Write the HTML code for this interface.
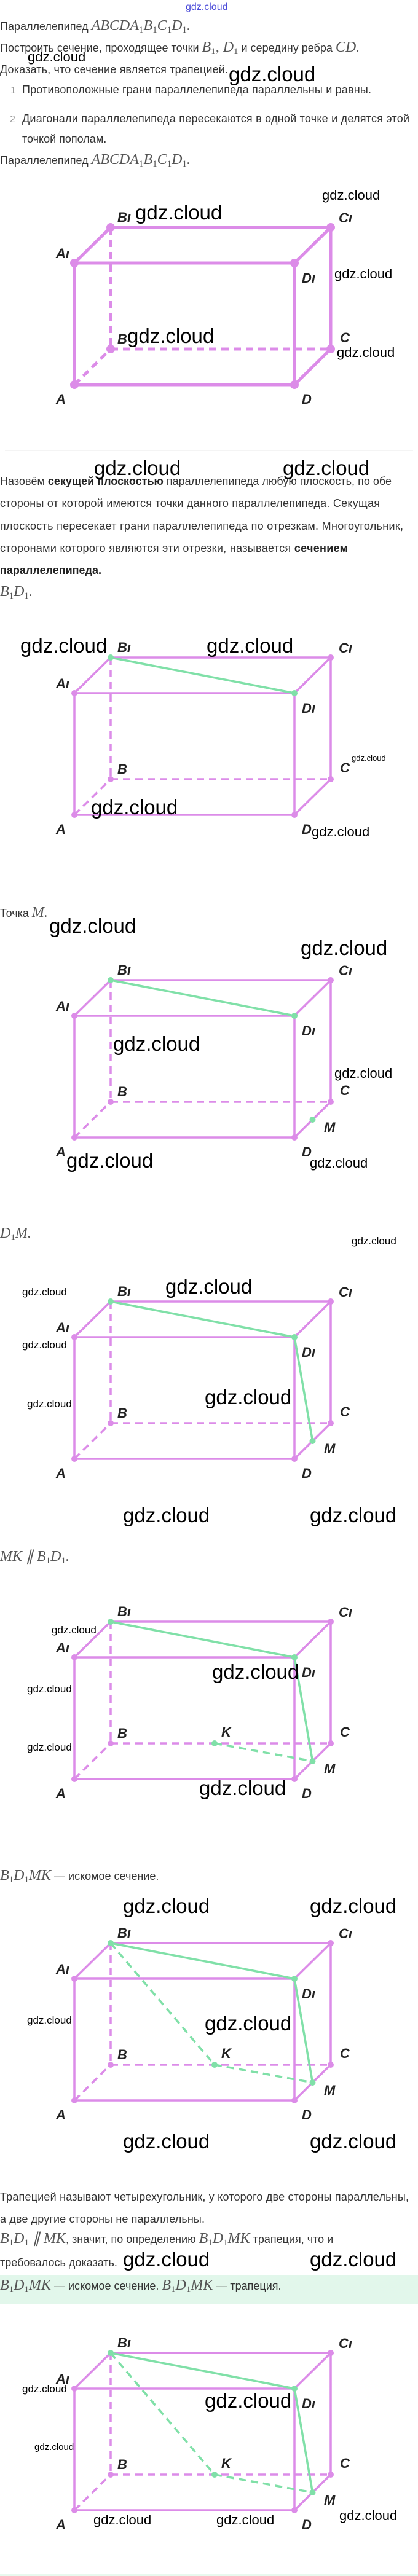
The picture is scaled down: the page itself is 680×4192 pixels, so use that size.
<!DOCTYPE html>
<html><head><meta charset="utf-8">
<style>
html,body{margin:0;padding:0;background:#fff;}
svg{display:block;}
.t{font-family:"Liberation Sans",sans-serif;font-size:18px;fill:#333;}
.b{font-weight:bold;fill:#222;}
.m{font-family:"Liberation Serif",serif;font-style:italic;font-size:24px;fill:#555;}
.s{font-family:"Liberation Serif",serif;font-size:15px;fill:#555;font-style:normal;}
.n{font-family:"Liberation Sans",sans-serif;font-size:16px;fill:#999;}
.L{font-family:"Liberation Sans Narrow","Liberation Sans",sans-serif;font-weight:bold;font-style:italic;font-size:22px;fill:#222;}
.w{font-family:"Liberation Sans",sans-serif;fill:#000;}
.p{stroke:#dc8ce8;fill:none;stroke-linecap:round;}
.d{stroke-dasharray:12 8;stroke-linecap:butt;}
.g{stroke:#80e0a8;fill:none;stroke-width:3.5;}
.pd{fill:#dc8ce8;}
.gd{fill:#80e0a8;}
</style></head><body>
<svg width="680" height="4192" viewBox="0 0 680 4192" xmlns="http://www.w3.org/2000/svg">
<rect width="680" height="4192" fill="#fff"/>

<text x="302" y="16" class="w" font-size="16" style="fill:#4848d8">gdz.cloud</text>
<text x="0" y="49" class="t">Параллелепипед <tspan class="m">ABCDA</tspan><tspan class="s" baseline-shift="-4">1</tspan><tspan class="m">B</tspan><tspan class="s" baseline-shift="-4">1</tspan><tspan class="m">C</tspan><tspan class="s" baseline-shift="-4">1</tspan><tspan class="m">D</tspan><tspan class="s" baseline-shift="-4">1</tspan><tspan class="m">.</tspan></text>
<text x="0" y="84" class="t">Построить сечение, проходящее точки <tspan class="m">B</tspan><tspan class="s" baseline-shift="-4">1</tspan><tspan class="m">, D</tspan><tspan class="s" baseline-shift="-4">1</tspan> и середину ребра <tspan class="m">CD.</tspan></text>
<text x="0" y="119" class="t" textLength="371" lengthAdjust="spacing">Доказать, что сечение является трапецией.</text>
<text x="17" y="152" class="n">1</text>
<text x="36" y="152" class="t" textLength="568" lengthAdjust="spacing">Противоположные грани параллелепипеда параллельны и равны.</text>
<text x="16" y="199" class="n">2</text>
<text x="36" y="199" class="t" textLength="630" lengthAdjust="spacing">Диагонали параллелепипеда пересекаются в одной точке и делятся этой</text>
<text x="36" y="232" class="t">точкой пополам.</text>
<text x="0" y="267" class="t">Параллелепипед <tspan class="m">ABCDA</tspan><tspan class="s" baseline-shift="-4">1</tspan><tspan class="m">B</tspan><tspan class="s" baseline-shift="-4">1</tspan><tspan class="m">C</tspan><tspan class="s" baseline-shift="-4">1</tspan><tspan class="m">D</tspan><tspan class="s" baseline-shift="-4">1</tspan><tspan class="m">.</tspan></text>

<!-- FIG 1 -->
<g transform="translate(0,370)">
<g class="p" stroke-width="5">
<line x1="180" y1="0" x2="538" y2="0"/><line x1="121" y1="58" x2="180" y2="0"/><line x1="121" y1="58" x2="479" y2="58"/><line x1="479" y1="58" x2="538" y2="0"/>
<line x1="538" y1="0" x2="538" y2="198"/><line x1="121" y1="58" x2="121" y2="256"/><line x1="479" y1="58" x2="479" y2="256"/><line x1="121" y1="256" x2="479" y2="256"/><line x1="479" y1="256" x2="538" y2="198"/>
<line class="d" x1="180" y1="0" x2="180" y2="198"/><line class="d" x1="180" y1="198" x2="538" y2="198"/><line class="d" x1="121" y1="256" x2="180" y2="198"/>
</g>
<g class="pd"><circle cx="180" cy="0" r="7"/><circle cx="538" cy="0" r="7"/><circle cx="121" cy="58" r="7"/><circle cx="479" cy="58" r="7"/><circle cx="180" cy="198" r="7"/><circle cx="538" cy="198" r="7"/><circle cx="121" cy="256" r="7"/><circle cx="479" cy="256" r="7"/></g>
<text class="L" x="191" y="-9">Bı</text><text class="L" x="551" y="-8">Cı</text><text class="L" x="91" y="50">Aı</text><text class="L" x="491" y="90">Dı</text>
<text class="L" x="191" y="189">B</text><text class="L" x="553" y="187">C</text><text class="L" x="91" y="287">A</text><text class="L" x="491" y="287">D</text>
</g>
<text class="w" x="45" y="100" font-size="22">gdz.cloud</text>
<text class="w" x="372" y="132" font-size="33">gdz.cloud</text>
<text class="w" x="524" y="325" font-size="22">gdz.cloud</text>
<text class="w" x="220" y="357" font-size="33">gdz.cloud</text>
<text class="w" x="544" y="453" font-size="22">gdz.cloud</text>
<text class="w" x="207" y="558" font-size="33">gdz.cloud</text>
<text class="w" x="548" y="581" font-size="22">gdz.cloud</text>

<line x1="8" y1="733" x2="672" y2="733" stroke="#f0f0f0" stroke-width="1.5"/>

<text x="0" y="789" class="t" textLength="637" lengthAdjust="spacing">Назовём <tspan class="b">секущей плоскостью</tspan> параллелепипеда любую плоскость, по обе</text>
<text x="0" y="825" class="t" textLength="618" lengthAdjust="spacing">стороны от которой имеются точки данного параллелепипеда. Секущая</text>
<text x="0" y="862" class="t" textLength="656" lengthAdjust="spacing">плоскость пересекает грани параллелепипеда по отрезкам. Многоугольник,</text>
<text x="0" y="898" class="t" textLength="566" lengthAdjust="spacing">сторонами которого являются эти отрезки, называется <tspan class="b">сечением</tspan></text>
<text x="0" y="934" class="t b">параллелепипеда.</text>
<text x="0" y="970"><tspan class="m">B</tspan><tspan class="s" baseline-shift="-4">1</tspan><tspan class="m">D</tspan><tspan class="s" baseline-shift="-4">1</tspan><tspan class="m">.</tspan></text>
<text class="w" x="153" y="773" font-size="33">gdz.cloud</text>
<text class="w" x="460" y="773" font-size="33">gdz.cloud</text>

<!-- FIG 2 -->
<g transform="translate(0,1070)">
<g class="p" stroke-width="3.5">
<line x1="180" y1="0" x2="538" y2="0"/><line x1="121" y1="58" x2="180" y2="0"/><line x1="121" y1="58" x2="479" y2="58"/><line x1="479" y1="58" x2="538" y2="0"/>
<line x1="538" y1="0" x2="538" y2="198"/><line x1="121" y1="58" x2="121" y2="256"/><line x1="479" y1="58" x2="479" y2="256"/><line x1="121" y1="256" x2="479" y2="256"/><line x1="479" y1="256" x2="538" y2="198"/>
<line class="d" x1="180" y1="0" x2="180" y2="198"/><line class="d" x1="180" y1="198" x2="538" y2="198"/><line class="d" x1="121" y1="256" x2="180" y2="198"/>
</g>
<line class="g" x1="180" y1="0" x2="479" y2="58"/>
<g class="pd"><circle cx="538" cy="0" r="5"/><circle cx="121" cy="58" r="5"/><circle cx="180" cy="198" r="5"/><circle cx="538" cy="198" r="5"/><circle cx="121" cy="256" r="5"/><circle cx="479" cy="256" r="5"/></g>
<g class="gd"><circle cx="180" cy="0" r="5"/><circle cx="479" cy="58" r="5"/></g>
<text class="L" x="191" y="-9">Bı</text><text class="L" x="551" y="-8">Cı</text><text class="L" x="91" y="50">Aı</text><text class="L" x="491" y="90">Dı</text>
<text class="L" x="191" y="189">B</text><text class="L" x="553" y="187">C</text><text class="L" x="91" y="287">A</text><text class="L" x="491" y="287">D</text>
</g>
<text class="w" x="33" y="1062" font-size="33">gdz.cloud</text>
<text class="w" x="336" y="1062" font-size="33">gdz.cloud</text>
<text class="w" x="572" y="1238" font-size="13">gdz.cloud</text>
<text class="w" x="148" y="1325" font-size="33">gdz.cloud</text>
<text class="w" x="507" y="1361" font-size="22">gdz.cloud</text>

<text x="0" y="1492" class="t">Точка <tspan class="m">M.</tspan></text>
<text class="w" x="80" y="1518" font-size="33">gdz.cloud</text>
<text class="w" x="489" y="1554" font-size="33">gdz.cloud</text>

<!-- FIG 3 -->
<g transform="translate(0,1595)">
<g class="p" stroke-width="3.5">
<line x1="180" y1="0" x2="538" y2="0"/><line x1="121" y1="58" x2="180" y2="0"/><line x1="121" y1="58" x2="479" y2="58"/><line x1="479" y1="58" x2="538" y2="0"/>
<line x1="538" y1="0" x2="538" y2="198"/><line x1="121" y1="58" x2="121" y2="256"/><line x1="479" y1="58" x2="479" y2="256"/><line x1="121" y1="256" x2="479" y2="256"/><line x1="479" y1="256" x2="538" y2="198"/>
<line class="d" x1="180" y1="0" x2="180" y2="198"/><line class="d" x1="180" y1="198" x2="538" y2="198"/><line class="d" x1="121" y1="256" x2="180" y2="198"/>
</g>
<line class="g" x1="180" y1="0" x2="479" y2="58"/>
<g class="pd"><circle cx="538" cy="0" r="5"/><circle cx="121" cy="58" r="5"/><circle cx="180" cy="198" r="5"/><circle cx="538" cy="198" r="5"/><circle cx="121" cy="256" r="5"/><circle cx="479" cy="256" r="5"/></g>
<g class="gd"><circle cx="180" cy="0" r="5"/><circle cx="479" cy="58" r="5"/><circle cx="508.5" cy="227" r="5"/></g>
<text class="L" x="191" y="-9">Bı</text><text class="L" x="551" y="-8">Cı</text><text class="L" x="91" y="50">Aı</text><text class="L" x="491" y="90">Dı</text>
<text class="L" x="191" y="189">B</text><text class="L" x="553" y="187">C</text><text class="L" x="91" y="287">A</text><text class="L" x="491" y="287">D</text><text class="L" x="527" y="247">M</text>
</g>
<text class="w" x="184" y="1710" font-size="33">gdz.cloud</text>
<text class="w" x="544" y="1754" font-size="22">gdz.cloud</text>
<text class="w" x="108" y="1900" font-size="33">gdz.cloud</text>
<text class="w" x="504" y="1900" font-size="22">gdz.cloud</text>

<text x="0" y="2014"><tspan class="m">D</tspan><tspan class="s" baseline-shift="-4">1</tspan><tspan class="m">M.</tspan></text>
<text class="w" x="572" y="2025" font-size="17">gdz.cloud</text>
<text class="w" x="36" y="2108" font-size="17">gdz.cloud</text>
<text class="w" x="269" y="2105" font-size="33">gdz.cloud</text>

<!-- FIG 4 -->
<g transform="translate(0,2118)">
<g class="p" stroke-width="3.5">
<line x1="180" y1="0" x2="538" y2="0"/><line x1="121" y1="58" x2="180" y2="0"/><line x1="121" y1="58" x2="479" y2="58"/><line x1="479" y1="58" x2="538" y2="0"/>
<line x1="538" y1="0" x2="538" y2="198"/><line x1="121" y1="58" x2="121" y2="256"/><line x1="479" y1="58" x2="479" y2="256"/><line x1="121" y1="256" x2="479" y2="256"/><line x1="479" y1="256" x2="538" y2="198"/>
<line class="d" x1="180" y1="0" x2="180" y2="198"/><line class="d" x1="180" y1="198" x2="538" y2="198"/><line class="d" x1="121" y1="256" x2="180" y2="198"/>
</g>
<line class="g" x1="180" y1="0" x2="479" y2="58"/><line class="g" x1="479" y1="58" x2="508.5" y2="227"/>
<g class="pd"><circle cx="538" cy="0" r="5"/><circle cx="121" cy="58" r="5"/><circle cx="180" cy="198" r="5"/><circle cx="538" cy="198" r="5"/><circle cx="121" cy="256" r="5"/><circle cx="479" cy="256" r="5"/></g>
<g class="gd"><circle cx="180" cy="0" r="5"/><circle cx="479" cy="58" r="5"/><circle cx="508.5" cy="227" r="5"/></g>
<text class="L" x="191" y="-9">Bı</text><text class="L" x="551" y="-8">Cı</text><text class="L" x="91" y="50">Aı</text><text class="L" x="491" y="90">Dı</text>
<text class="L" x="191" y="189">B</text><text class="L" x="553" y="187">C</text><text class="L" x="91" y="287">A</text><text class="L" x="491" y="287">D</text><text class="L" x="527" y="247">M</text>
</g>
<text class="w" x="36" y="2194" font-size="17">gdz.cloud</text>
<text class="w" x="44" y="2290" font-size="17">gdz.cloud</text>
<text class="w" x="333" y="2285" font-size="33">gdz.cloud</text>
<text class="w" x="200" y="2477" font-size="33">gdz.cloud</text>
<text class="w" x="504" y="2477" font-size="33">gdz.cloud</text>

<text x="0" y="2540"><tspan class="m">MK ∥ B</tspan><tspan class="s" baseline-shift="-4">1</tspan><tspan class="m">D</tspan><tspan class="s" baseline-shift="-4">1</tspan><tspan class="m">.</tspan></text>

<!-- FIG 5 -->
<g transform="translate(0,2639)">
<g class="p" stroke-width="3.5">
<line x1="180" y1="0" x2="538" y2="0"/><line x1="121" y1="58" x2="180" y2="0"/><line x1="121" y1="58" x2="479" y2="58"/><line x1="479" y1="58" x2="538" y2="0"/>
<line x1="538" y1="0" x2="538" y2="198"/><line x1="121" y1="58" x2="121" y2="256"/><line x1="479" y1="58" x2="479" y2="256"/><line x1="121" y1="256" x2="479" y2="256"/><line x1="479" y1="256" x2="538" y2="198"/>
<line class="d" x1="180" y1="0" x2="180" y2="198"/><line class="d" x1="180" y1="198" x2="538" y2="198"/><line class="d" x1="121" y1="256" x2="180" y2="198"/>
</g>
<line class="g" x1="180" y1="0" x2="479" y2="58"/><line class="g" x1="479" y1="58" x2="508.5" y2="227"/>
<line class="g" stroke-dasharray="12 8" x1="349" y1="198" x2="508.5" y2="227"/>
<g class="pd"><circle cx="538" cy="0" r="5"/><circle cx="121" cy="58" r="5"/><circle cx="180" cy="198" r="5"/><circle cx="538" cy="198" r="5"/><circle cx="121" cy="256" r="5"/><circle cx="479" cy="256" r="5"/></g>
<g class="gd"><circle cx="180" cy="0" r="5"/><circle cx="479" cy="58" r="5"/><circle cx="508.5" cy="227" r="5"/><circle cx="349" cy="198" r="5"/></g>
<text class="L" x="191" y="-9">Bı</text><text class="L" x="551" y="-8">Cı</text><text class="L" x="91" y="50">Aı</text><text class="L" x="491" y="90">Dı</text>
<text class="L" x="191" y="189">B</text><text class="L" x="553" y="187">C</text><text class="L" x="91" y="287">A</text><text class="L" x="491" y="287">D</text><text class="L" x="527" y="247">M</text><text class="L" x="360" y="187">K</text>
</g>
<text class="w" x="84" y="2658" font-size="17">gdz.cloud</text>
<text class="w" x="345" y="2732" font-size="33">gdz.cloud</text>
<text class="w" x="44" y="2754" font-size="17">gdz.cloud</text>
<text class="w" x="44" y="2849" font-size="17">gdz.cloud</text>
<text class="w" x="324" y="2921" font-size="33">gdz.cloud</text>

<text x="0" y="3059"><tspan class="m">B</tspan><tspan class="s" baseline-shift="-4">1</tspan><tspan class="m">D</tspan><tspan class="s" baseline-shift="-4">1</tspan><tspan class="m">MK</tspan><tspan class="t"> — искомое сечение.</tspan></text>
<text class="w" x="200" y="3113" font-size="33">gdz.cloud</text>
<text class="w" x="504" y="3113" font-size="33">gdz.cloud</text>

<!-- FIG 6 -->
<g transform="translate(0,3162)">
<g class="p" stroke-width="3.5">
<line x1="180" y1="0" x2="538" y2="0"/><line x1="121" y1="58" x2="180" y2="0"/><line x1="121" y1="58" x2="479" y2="58"/><line x1="479" y1="58" x2="538" y2="0"/>
<line x1="538" y1="0" x2="538" y2="198"/><line x1="121" y1="58" x2="121" y2="256"/><line x1="479" y1="58" x2="479" y2="256"/><line x1="121" y1="256" x2="479" y2="256"/><line x1="479" y1="256" x2="538" y2="198"/>
<line class="d" x1="180" y1="0" x2="180" y2="198"/><line class="d" x1="180" y1="198" x2="538" y2="198"/><line class="d" x1="121" y1="256" x2="180" y2="198"/>
</g>
<line class="g" x1="180" y1="0" x2="479" y2="58"/><line class="g" x1="479" y1="58" x2="508.5" y2="227"/>
<line class="g" stroke-dasharray="12 8" x1="349" y1="198" x2="508.5" y2="227"/>
<line class="g" stroke-dasharray="12 8" x1="180" y1="0" x2="349" y2="198"/>
<g class="pd"><circle cx="538" cy="0" r="5"/><circle cx="121" cy="58" r="5"/><circle cx="180" cy="198" r="5"/><circle cx="538" cy="198" r="5"/><circle cx="121" cy="256" r="5"/><circle cx="479" cy="256" r="5"/></g>
<g class="gd"><circle cx="180" cy="0" r="5"/><circle cx="479" cy="58" r="5"/><circle cx="508.5" cy="227" r="5"/><circle cx="349" cy="198" r="5"/></g>
<text class="L" x="191" y="-9">Bı</text><text class="L" x="551" y="-8">Cı</text><text class="L" x="91" y="50">Aı</text><text class="L" x="491" y="90">Dı</text>
<text class="L" x="191" y="189">B</text><text class="L" x="553" y="187">C</text><text class="L" x="91" y="287">A</text><text class="L" x="491" y="287">D</text><text class="L" x="527" y="247">M</text><text class="L" x="360" y="187">K</text>
</g>
<text class="w" x="44" y="3293" font-size="17">gdz.cloud</text>
<text class="w" x="333" y="3304" font-size="33">gdz.cloud</text>
<text class="w" x="200" y="3496" font-size="33">gdz.cloud</text>
<text class="w" x="504" y="3496" font-size="33">gdz.cloud</text>

<text x="0" y="3581" class="t" textLength="665" lengthAdjust="spacing">Трапецией называют четырехугольник, у которого две стороны параллельны,</text>
<text x="0" y="3617" class="t" textLength="333" lengthAdjust="spacing">а две другие стороны не параллельны.</text>
<text x="0" y="3650"><tspan class="m">B</tspan><tspan class="s" baseline-shift="-4">1</tspan><tspan class="m">D</tspan><tspan class="s" baseline-shift="-4">1</tspan><tspan class="m"> ∥ MK</tspan><tspan class="t">, значит, по определению </tspan><tspan class="m">B</tspan><tspan class="s" baseline-shift="-4">1</tspan><tspan class="m">D</tspan><tspan class="s" baseline-shift="-4">1</tspan><tspan class="m">MK</tspan><tspan class="t"> трапеция, что и</tspan></text>
<text x="0" y="3688" class="t">требовалось доказать.</text>
<text class="w" x="200" y="3688" font-size="33">gdz.cloud</text>
<text class="w" x="504" y="3688" font-size="33">gdz.cloud</text>
<rect x="0" y="3702" width="680" height="47" fill="#e2f7eb"/>
<text x="0" y="3726"><tspan class="m">B</tspan><tspan class="s" baseline-shift="-4">1</tspan><tspan class="m">D</tspan><tspan class="s" baseline-shift="-4">1</tspan><tspan class="m">MK</tspan><tspan class="t"> — искомое сечение. </tspan><tspan class="m">B</tspan><tspan class="s" baseline-shift="-4">1</tspan><tspan class="m">D</tspan><tspan class="s" baseline-shift="-4">1</tspan><tspan class="m">MK</tspan><tspan class="t"> — трапеция.</tspan></text>

<!-- FIG 7 -->
<g transform="translate(0,3829)">
<g class="p" stroke-width="3.5">
<line x1="180" y1="0" x2="538" y2="0"/><line x1="121" y1="58" x2="180" y2="0"/><line x1="121" y1="58" x2="479" y2="58"/><line x1="479" y1="58" x2="538" y2="0"/>
<line x1="538" y1="0" x2="538" y2="198"/><line x1="121" y1="58" x2="121" y2="256"/><line x1="479" y1="58" x2="479" y2="256"/><line x1="121" y1="256" x2="479" y2="256"/><line x1="479" y1="256" x2="538" y2="198"/>
<line class="d" x1="180" y1="0" x2="180" y2="198"/><line class="d" x1="180" y1="198" x2="538" y2="198"/><line class="d" x1="121" y1="256" x2="180" y2="198"/>
</g>
<line class="g" x1="180" y1="0" x2="479" y2="58"/><line class="g" x1="479" y1="58" x2="508.5" y2="227"/>
<line class="g" stroke-dasharray="12 8" x1="349" y1="198" x2="508.5" y2="227"/>
<line class="g" stroke-dasharray="12 8" x1="180" y1="0" x2="349" y2="198"/>
<g class="pd"><circle cx="538" cy="0" r="5"/><circle cx="121" cy="58" r="5"/><circle cx="180" cy="198" r="5"/><circle cx="538" cy="198" r="5"/><circle cx="121" cy="256" r="5"/><circle cx="479" cy="256" r="5"/></g>
<g class="gd"><circle cx="180" cy="0" r="5"/><circle cx="479" cy="58" r="5"/><circle cx="508.5" cy="227" r="5"/><circle cx="349" cy="198" r="5"/></g>
<text class="L" x="191" y="-9">Bı</text><text class="L" x="551" y="-8">Cı</text><text class="L" x="91" y="50">Aı</text><text class="L" x="491" y="90">Dı</text>
<text class="L" x="191" y="189">B</text><text class="L" x="553" y="187">C</text><text class="L" x="91" y="287">A</text><text class="L" x="491" y="287">D</text><text class="L" x="527" y="247">M</text><text class="L" x="360" y="187">K</text>
</g>
<text class="w" x="36" y="3893" font-size="17">gdz.cloud</text>
<text class="w" x="333" y="3918" font-size="33">gdz.cloud</text>
<text class="w" x="56" y="3987" font-size="15">gdz.cloud</text>
<text class="w" x="152" y="4108" font-size="22">gdz.cloud</text>
<text class="w" x="352" y="4108" font-size="22">gdz.cloud</text>
<text class="w" x="552" y="4101" font-size="22">gdz.cloud</text>

<rect x="0" y="4189" width="680" height="3" fill="#e8f9ee"/>
</svg>
</body></html>
